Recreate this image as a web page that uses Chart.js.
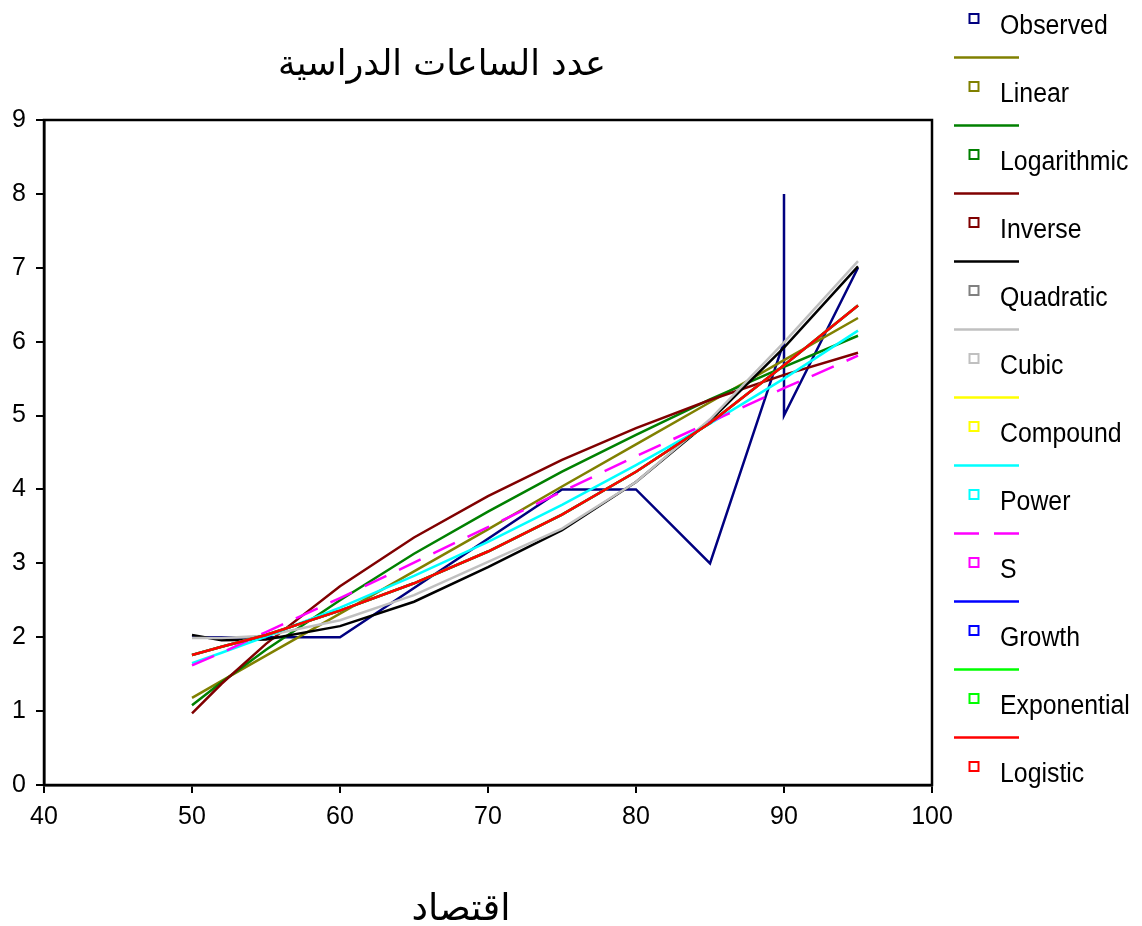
<!DOCTYPE html>
<html>
<head>
<meta charset="utf-8">
<script src="https://cdn.jsdelivr.net/npm/chart.js@4.4.1/dist/chart.umd.min.js"></script>
<style>
html,body{margin:0;padding:0;background:#fff;}
#wrap{position:relative;width:1142px;height:926px;}
</style>
</head>
<body>
<div id="wrap"><canvas id="c" width="1142" height="926"></canvas></div>
<script>
// ---- texts ----
const chartTitle = 'عدد الساعات الدراسية';
const xAxisTitle = 'اقتصاد';

// ---- tick labels ----
const xTickValues = [40, 50, 60, 70, 80, 90, 100];
const yTickValues = [0, 1, 2, 3, 4, 5, 6, 7, 8, 9];

// ---- observed data ----
const observedX = [50, 55, 60, 75, 80, 85, 90, 90, 90, 95];
const observedY = [2, 2, 2, 4, 4, 3, 6, 8, 5, 7];

// ---- fitted curves ----
const fitX = [50, 52, 55, 60, 65, 70, 75, 80, 85, 90, 95];
const linearY      = [1.18, 1.41, 1.75, 2.32, 2.89, 3.46, 4.04, 4.61, 5.18, 5.75, 6.32];
const logarithmicY = [1.08, 1.39, 1.83, 2.50, 3.13, 3.70, 4.24, 4.74, 5.22, 5.66, 6.08];
const inverseY     = [0.97, 1.37, 1.91, 2.69, 3.35, 3.91, 4.40, 4.83, 5.21, 5.55, 5.85];
const quadraticY   = [2.03, 1.96, 1.97, 2.15, 2.48, 2.95, 3.45, 4.10, 4.93, 5.92, 7.02];
const cubicY       = [1.99, 1.99, 2.02, 2.23, 2.57, 3.02, 3.47, 4.10, 4.95, 5.99, 7.09];
const compoundY    = [1.76, 1.87, 2.03, 2.36, 2.73, 3.16, 3.66, 4.24, 4.90, 5.68, 6.49];
const powerY       = [1.65, 1.79, 2.01, 2.40, 2.83, 3.29, 3.79, 4.33, 4.89, 5.50, 6.15];
const sY           = [1.62, 1.79, 2.07, 2.53, 3.01, 3.49, 3.97, 4.45, 4.91, 5.37, 5.81];
const growthY      = [1.76, 1.87, 2.03, 2.36, 2.73, 3.16, 3.66, 4.24, 4.90, 5.68, 6.49];
const exponentialY = [1.76, 1.87, 2.03, 2.36, 2.73, 3.16, 3.66, 4.24, 4.90, 5.68, 6.49];
const logisticY    = [1.76, 1.87, 2.03, 2.36, 2.73, 3.16, 3.66, 4.24, 4.90, 5.68, 6.49];

const seriesNames = ['Observed', 'Linear', 'Logarithmic', 'Inverse', 'Quadratic', 'Cubic',
                     'Compound', 'Power', 'S', 'Growth', 'Exponential', 'Logistic'];
const seriesValues = [observedY, linearY, logarithmicY, inverseY, quadraticY, cubicY,
                      compoundY, powerY, sY, growthY, exponentialY, logisticY];
const lineColors = ['#000080', '#808000', '#008000', '#800000', '#000000', '#c0c0c0',
                    '#ffff00', '#00ffff', '#ff00ff', '#0000ff', '#00ff00', '#ff0000'];
const markerColors = ['#000080', '#808000', '#008000', '#800000', '#808080', '#c0c0c0',
                      '#ffff00', '#00ffff', '#ff00ff', '#0000ff', '#00ff00', '#ff0000'];
const dashed = [false, false, false, false, false, false, false, false, true, false, false, false];

const FONT = '"Liberation Sans", Arial, sans-serif';
const N = seriesNames.length;

const datasets = seriesNames.map((name, i) => {
  const xs = i === 0 ? observedX : fitX;
  return {
    label: name,
    data: seriesValues[i].map((v, k) => ({ x: xs[k], y: v })),
    showLine: true,
    borderColor: lineColors[i],
    backgroundColor: lineColors[i],
    borderWidth: 2.5,
    borderDash: dashed[i] ? [24, 14] : [],
    pointRadius: 0,
    tension: 0,
    order: N - i
  };
});

const decor = {
  id: 'decor',
  afterDraw(chart) {
    const ctx = chart.ctx;
    const a = chart.chartArea;
    ctx.save();
    // frame
    ctx.strokeStyle = '#000';
    ctx.lineWidth = 2.5;
    ctx.setLineDash([]);
    ctx.strokeRect(a.left, a.top, a.right - a.left, a.bottom - a.top);

    // titles
    ctx.fillStyle = '#000';
    ctx.textAlign = 'center';
    ctx.textBaseline = 'alphabetic';
    ctx.direction = 'rtl';
    ctx.font = '35px "DejaVu Sans", sans-serif';
    ctx.fillText(chartTitle, 442, 75);
    ctx.font = '37px "DejaVu Sans", sans-serif';
    ctx.fillText(xAxisTitle, 461, 920);
    ctx.direction = 'ltr';

    // legend
    const lineX0 = 954, lineX1 = 1019;
    for (let i = 0; i < N; i++) {
      const lineY = 57.5 + 68 * (i - 1);
      if (i > 0) {
        ctx.strokeStyle = lineColors[i];
        ctx.lineWidth = 2.5;
        ctx.setLineDash(dashed[i] ? [25, 15] : []);
        ctx.beginPath();
        ctx.moveTo(lineX0, lineY);
        ctx.lineTo(lineX1, lineY);
        ctx.stroke();
        ctx.setLineDash([]);
      }
      const my = lineY + 29;
      ctx.strokeStyle = markerColors[i];
      ctx.lineWidth = 2;
      ctx.strokeRect(969.5, my - 4.5, 9, 9);
      ctx.save();
      ctx.fillStyle = '#000';
      ctx.textAlign = 'left';
      ctx.textBaseline = 'alphabetic';
      ctx.font = '27px ' + FONT;
      ctx.translate(1000, lineY + 44);
      ctx.scale(0.92, 1);
      ctx.fillText(seriesNames[i], 0, 0);
      ctx.restore();
    }
    ctx.restore();
  }
};

new Chart(document.getElementById('c'), {
  type: 'scatter',
  data: { datasets },
  options: {
    responsive: false,
    animation: false,
    devicePixelRatio: 1,
    layout: { padding: { left: 0, top: 120, right: 210, bottom: 0 } },
    plugins: { legend: { display: false }, tooltip: { enabled: false }, title: { display: false } },
    scales: {
      x: {
        type: 'linear', min: 40, max: 100,
        afterBuildTicks: s => { s.ticks = xTickValues.map(v => ({ value: v })); },
        afterFit: s => { s.height = 141; },
        ticks: { font: { family: FONT, size: 25 }, color: '#000', padding: 9, maxRotation: 0, autoSkip: false },
        grid: { drawOnChartArea: false, drawTicks: true, tickLength: 8, color: '#000', lineWidth: 2 },
        border: { display: true, color: '#000', width: 2.5 }
      },
      y: {
        type: 'linear', min: 0, max: 9,
        afterBuildTicks: s => { s.ticks = yTickValues.map(v => ({ value: v })); },
        afterFit: s => { s.width = 44; },
        ticks: { font: { family: FONT, size: 25 }, color: '#000', padding: 10, autoSkip: false },
        grid: { drawOnChartArea: false, drawTicks: true, tickLength: 8, color: '#000', lineWidth: 2 },
        border: { display: true, color: '#000', width: 2.5 }
      }
    }
  },
  plugins: [decor]
});
</script>
</body>
</html>
